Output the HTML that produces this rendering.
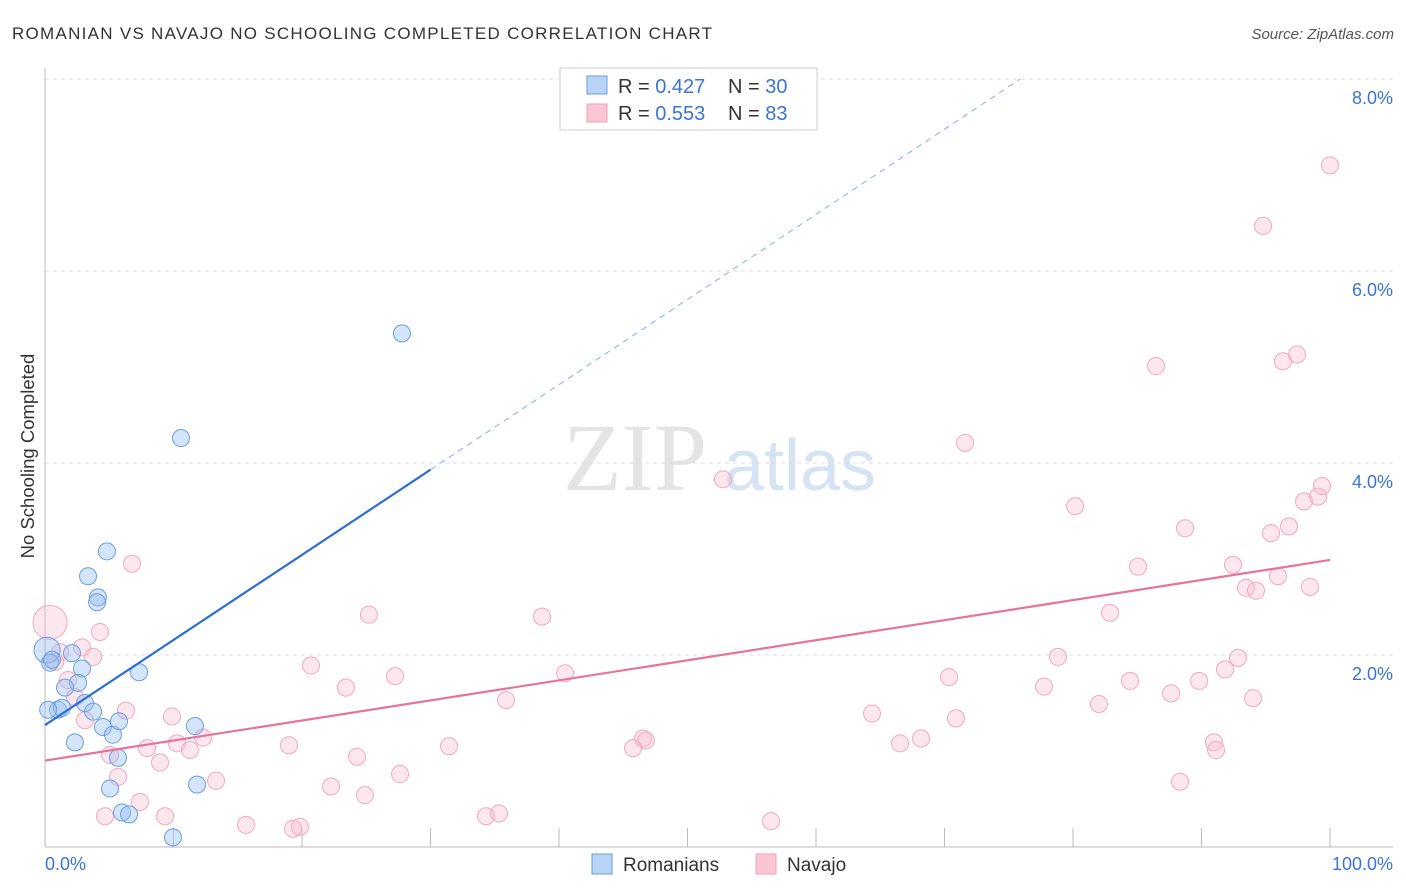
<!DOCTYPE html>
<html><head><meta charset="utf-8"><style>
body{margin:0;background:#fff;font-family:"Liberation Sans",sans-serif;}
svg{display:block}
</style></head><body>
<svg id="chart" width="1406" height="892">
<text x="12" y="39" font-size="17" fill="#333" textLength="700">ROMANIAN VS NAVAJO NO SCHOOLING COMPLETED CORRELATION CHART</text>
<text x="1394" y="39" font-size="15" fill="#555" font-style="italic" text-anchor="end">Source: ZipAtlas.com</text>
<text x="0" y="0" transform="translate(34,456) rotate(-90)" font-size="18.5" fill="#333" text-anchor="middle">No Schooling Completed</text>
<g><text x="635" y="490" font-size="96" fill="#e4e4e4" font-family="Liberation Serif,serif" text-anchor="middle">ZIP</text><text x="800" y="490" font-size="72" fill="#d5e3f3" text-anchor="middle">atlas</text></g>
<g id="grid"></g><g id="axes"></g><g id="pts"></g><g id="lines"></g>
<g>
<rect x="560" y="68" width="257" height="62" fill="#fff" stroke="#ccc"/>
<rect x="587" y="76" width="20" height="18" fill="#b8d3f5" stroke="#6a9ee0"/>
<rect x="587" y="104" width="20" height="18" fill="#fac6d4" stroke="#f0a0b8"/>
<text x="618" y="93" font-size="20" fill="#333">R = <tspan fill="#3b74d4">0.427</tspan></text>
<text x="728" y="93" font-size="20" fill="#333">N = <tspan fill="#3b74d4">30</tspan></text>
<text x="618" y="120" font-size="20" fill="#333">R = <tspan fill="#3b74d4">0.553</tspan></text>
<text x="728" y="120" font-size="20" fill="#333">N = <tspan fill="#3b74d4"> 83</tspan></text>
</g>
<g>
<rect x="592" y="854" width="20" height="20" fill="#b8d3f5" stroke="#6a9ee0"/>
<text x="623" y="871" font-size="19" fill="#333">Romanians</text>
<rect x="756" y="854" width="20" height="20" fill="#fac6d4" stroke="#f0a0b8"/>
<text x="787" y="871" font-size="19" fill="#333">Navajo</text>
</g>
</svg>
<script>
const yTicks=[2,4,6,8];
const xTickVals=[0,10,20,30,40,50,60,70,80,90,100];
const blueX=[4.82,3.35,4.12,4.05,0.16,0.39,2.10,0.54,2.88,2.57,1.56,1.01,3.11,3.74,2.33,4.51,5.29,5.76,7.32,11.67,5.68,5.06,5.99,6.54,9.96,11.83,10.58,27.78,1.32,0.25];
const blueY=[3.08,2.82,2.60,2.55,2.05,1.92,2.02,1.95,1.86,1.71,1.66,1.43,1.50,1.41,1.09,1.25,1.17,1.31,1.82,1.26,0.93,0.61,0.36,0.34,0.10,0.65,4.26,5.35,1.45,1.43];
const pinkX=[6.77,0.39,4.28,2.88,1.17,3.74,1.79,2.33,3.11,6.30,5.06,5.68,7.94,8.95,10.27,11.28,12.30,9.88,13.31,7.39,4.67,9.34,15.64,20.70,25.21,23.42,27.24,18.99,24.28,27.63,22.26,24.90,19.30,19.84,31.44,35.88,38.68,40.47,34.32,35.33,52.76,46.54,46.77,45.76,56.50,64.36,66.54,68.17,70.35,70.89,71.60,80.16,78.83,77.74,82.02,82.88,84.44,85.06,86.46,87.63,88.72,88.33,89.81,90.97,91.13,91.83,92.45,92.84,93.46,94.24,94.01,94.79,95.41,95.95,96.81,96.34,97.43,97.98,98.44,99.07,99.38,100.0,0.8];
const pinkY=[2.95,2.34,2.24,2.08,2.03,1.98,1.74,1.56,1.32,1.42,0.96,0.73,1.03,0.88,1.08,1.01,1.14,1.36,0.69,0.47,0.32,0.32,0.23,1.89,2.42,1.66,1.78,1.06,0.94,0.76,0.63,0.54,0.19,0.21,1.05,1.53,2.40,1.81,0.32,0.35,3.83,1.13,1.11,1.03,0.27,1.39,1.08,1.13,1.77,1.34,4.21,3.55,1.98,1.67,1.49,2.44,1.73,2.92,5.01,1.60,3.32,0.68,1.73,1.09,1.01,1.85,2.94,1.97,2.70,2.67,1.55,6.47,3.27,2.82,3.34,5.06,5.13,3.60,2.71,3.65,3.76,7.10,1.93];
const blueTrend=[1.27,3.93,30];
const pinkTrend=[0.90,2.99];
const NS='http://www.w3.org/2000/svg';
const X=v=>45+v*12.85, Y=v=>847-v*96;
function mk(p,t,a){const e=document.createElementNS(NS,t);for(const k in a)e.setAttribute(k,a[k]);p.appendChild(e);return e;}
const grid=document.getElementById('grid'),axes=document.getElementById('axes'),pts=document.getElementById('pts'),lines=document.getElementById('lines');
yTicks.forEach(t=>{
 const l=mk(grid,'line',{x1:45,x2:1393,y1:Y(t),y2:Y(t),stroke:'#ddd','stroke-dasharray':'4,4'});
 
 
 const tx=mk(grid,'text',{x:1393,y:Y(t)+25,'font-size':18,fill:'#3b74d4','text-anchor':'end'});
 tx.textContent=t.toFixed(1)+'%';
 
 
});
mk(axes,'line',{x1:45,x2:45,y1:68,y2:847,stroke:'#bbb'});
mk(axes,'line',{x1:45,x2:1393,y1:847,y2:847,stroke:'#bbb'});
xTickVals.forEach(t=>{const l=mk(axes,'line',{x1:X(t),x2:X(t),y1:828,y2:847,stroke:'#bbb'});
 
 });
const xl0=mk(axes,'text',{x:45,y:870,'font-size':18,fill:'#3b74d4'});xl0.textContent=xTickVals[0].toFixed(1)+'%';


const xl1=mk(axes,'text',{x:1393,y:870,'font-size':18,fill:'#3b74d4','text-anchor':'end'});xl1.textContent=xTickVals[10].toFixed(1)+'%';


pinkX.forEach((x,i)=>{const c=mk(pts,'circle',{cx:X(x),cy:Y(pinkY[i]),r:(i==1?17:8.5),fill:'rgba(248,185,205,0.35)',stroke:'#f2a8be','stroke-width':1});
 
 });
blueX.forEach((x,i)=>{const c=mk(pts,'circle',{cx:X(x),cy:Y(blueY[i]),r:(i==4?13:8.5),fill:'rgba(150,190,240,0.4)',stroke:'#6a9ee0','stroke-width':1});
 
 });
const slope=(blueTrend[1]-blueTrend[0])/blueTrend[2];
const bl=mk(lines,'line',{x1:X(0),y1:Y(blueTrend[0]),x2:X(blueTrend[2]),y2:Y(blueTrend[1]),stroke:'#2a6fd6','stroke-width':2.2});


const xe=(8-blueTrend[0])/slope;
const bd=mk(lines,'line',{x1:X(blueTrend[2]),y1:Y(blueTrend[1]),x2:X(xe),y2:Y(8),stroke:'#8ab0e6','stroke-width':1,'stroke-dasharray':'6,5'});


const pl=mk(lines,'line',{x1:X(0),y1:Y(pinkTrend[0]),x2:X(100),y2:Y(pinkTrend[1]),stroke:'#e8739a','stroke-width':2.2});


</script>
</body></html>
